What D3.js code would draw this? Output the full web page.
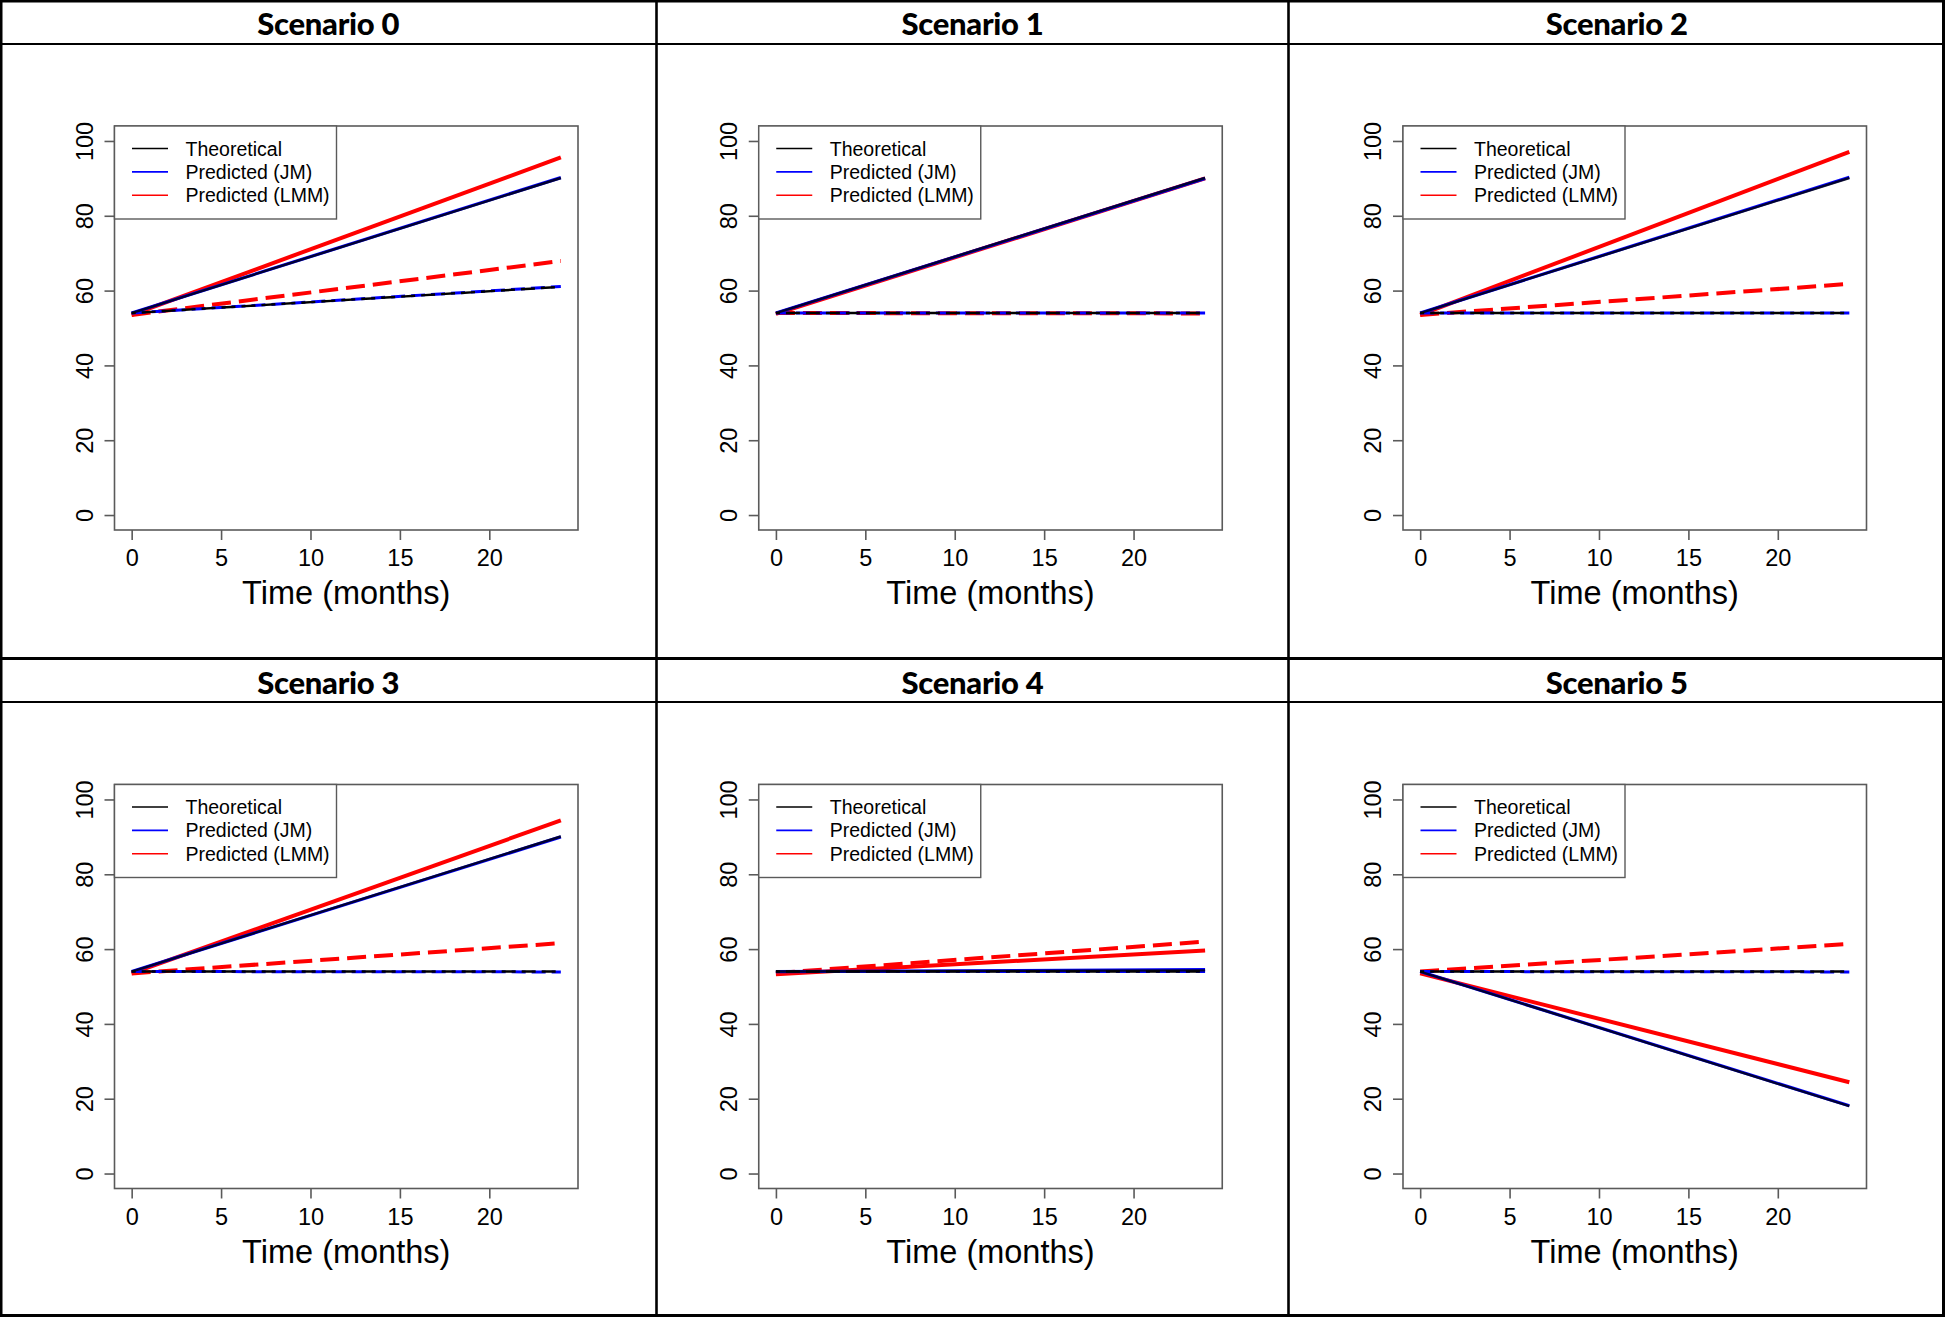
<!DOCTYPE html>
<html><head><meta charset="utf-8">
<script src="https://cdn.jsdelivr.net/npm/d3@7/dist/d3.min.js"></script>
<style>body{margin:0;background:#fff}</style></head>
<body>
<svg id="chart" width="1945" height="1317"></svg>
<script>
// ---- data ----
const scenarios = ["Scenario 0", "Scenario 1", "Scenario 2", "Scenario 3", "Scenario 4", "Scenario 5"];
const times = [0, 24];
const xTicks = [0, 5, 10, 15, 20];
const yTicks = [0, 20, 40, 60, 80, 100];
const legendLabels = ["Theoretical", "Predicted (JM)", "Predicted (LMM)"];
// solid = one group, dashed = other group; values at times [0, 24]
const theoSolid  = [[54, 90.1], [54, 90.1], [54, 90.1], [54, 90.1], [54, 54.3], [54, 18.0]];
const theoDashed = [[54, 61.0], [54, 54.0], [54, 54.0], [54, 54.0], [54, 54.0], [54, 54.0]];
const jmSolid    = [[54, 90.2], [54, 90.0], [54, 90.3], [54, 90.0], [54, 54.5], [54, 18.1]];
const jmDashed   = [[54, 61.1], [54, 54.0], [54, 54.0], [54, 53.9], [54, 54.0], [54, 53.9]];
const lmmSolid   = [[53.5, 95.6], [53.8, 90.0], [53.5, 97.1], [53.5, 94.4], [53.3, 59.6], [53.5, 24.4]];
const lmmDashed  = [[53.5, 67.9], [54, 53.9], [53.5, 61.8], [53.5, 61.6], [53.6, 62.0], [54, 61.4]];

// ---- layout ----
const svg = d3.select("#chart");
const W = 1945, H = 1317;
const colEdges = [0, 656.5, 1288.5, 1945];
const rowTops = [0, 658.5];
const titleH = 44;
const plotW = 463.5, plotH = 404, plotTopOff = 82, plotShift = 18;

const fontAx = "'Liberation Sans', Arial, sans-serif";

scenarios.forEach((name, k) => {
  const c = k % 3, r = Math.floor(k / 3);
  const cx = (colEdges[c] + colEdges[c + 1]) / 2;
  const rowTop = rowTops[r];
  const left = cx + plotShift - plotW / 2;
  const top = rowTop + titleH + plotTopOff;
  const bottom = top + plotH;

  // title
  svg.append("text").attr("x", cx).attr("y", rowTop + 35)
    .attr("text-anchor", "middle")
    .style("font-family", "Lato, 'Open Sans', sans-serif").style("font-weight", 900)
    .style("font-size", "31px").style("letter-spacing", "-0.3px").text(name);

  const x = d3.scaleLinear().domain([-0.96, 24.96]).range([left, left + plotW]);
  const y = d3.scaleLinear().domain([-4, 104]).range([bottom, top]);

  const g = svg.append("g");
  const line = d3.line().x((d, i) => x(times[i])).y(d => y(d));

  // LMM (red)
  g.append("path").datum(lmmSolid[k]).attr("d", line)
    .attr("fill", "none").attr("stroke", "#ff0000").attr("stroke-width", 4);
  g.append("path").datum(lmmDashed[k]).attr("d", line)
    .attr("fill", "none").attr("stroke", "#ff0000").attr("stroke-width", 4)
    .attr("stroke-dasharray", "19,8");
  // JM (blue)
  g.append("path").datum(jmSolid[k]).attr("d", line)
    .attr("fill", "none").attr("stroke", "#0000ff").attr("stroke-width", 3.2);
  g.append("path").datum(jmDashed[k]).attr("d", line)
    .attr("fill", "none").attr("stroke", "#0000ff").attr("stroke-width", 3.0)
    .attr("stroke-dasharray", "14,6");
  // Theoretical (black)
  g.append("path").datum(theoSolid[k]).attr("d", line)
    .attr("fill", "none").attr("stroke", "#000").attr("stroke-width", 2.4).attr("stroke-opacity", 0.8);
  g.append("path").datum(theoDashed[k]).attr("d", line)
    .attr("fill", "none").attr("stroke", "#000").attr("stroke-width", 2.4)
    .attr("stroke-dasharray", "14,6").attr("stroke-dashoffset", 10);

  // box
  svg.append("rect").attr("x", left).attr("y", top).attr("width", plotW).attr("height", plotH)
    .attr("fill", "none").attr("stroke", "#5a5a5a").attr("stroke-width", 1.6);

  // x axis
  const xa = svg.append("g").attr("transform", `translate(0,${bottom})`)
    .call(d3.axisBottom(x).tickValues(xTicks).tickSize(10).tickFormat(d3.format("d")));
  xa.select(".domain").remove();
  xa.selectAll(".tick line").attr("stroke", "#5a5a5a").attr("stroke-width", 1.6);
  xa.selectAll(".tick text").attr("y", 36).attr("dy", 0)
    .style("font-family", fontAx).style("font-size", "23.5px").attr("fill", "#000");

  // y axis
  const ya = svg.append("g").attr("transform", `translate(${left},0)`)
    .call(d3.axisLeft(y).tickValues(yTicks).tickSize(10).tickFormat(d3.format("d")));
  ya.select(".domain").remove();
  ya.selectAll(".tick line").attr("stroke", "#5a5a5a").attr("stroke-width", 1.6);
  ya.selectAll(".tick text").attr("transform", "rotate(-90)")
    .attr("x", 0).attr("y", -22).attr("dy", 0).attr("text-anchor", "middle")
    .style("font-family", fontAx).style("font-size", "23.5px").attr("fill", "#000");

  // x label
  svg.append("text").attr("x", left + plotW / 2).attr("y", bottom + 74)
    .attr("text-anchor", "middle").style("font-family", fontAx).style("font-size", "32.5px")
    .text("Time (months)");

  // legend
  const lg = svg.append("g");
  lg.append("rect").attr("x", left).attr("y", top).attr("width", 222).attr("height", 93)
    .attr("fill", "#fff").attr("stroke", "#5a5a5a").attr("stroke-width", 1.4);
  const legColors = ["#000", "#0000ff", "#ff0000"];
  legendLabels.forEach((lab, i) => {
    const ly = top + 22.5 + i * 23.4;
    lg.append("line").attr("x1", left + 17.5).attr("x2", left + 53.5)
      .attr("y1", ly).attr("y2", ly).attr("stroke", legColors[i]).attr("stroke-width", 1.6);
    lg.append("text").attr("x", left + 71).attr("y", ly + 7)
      .style("font-family", fontAx).style("font-size", "19.5px").text(lab);
  });
});

// table grid
const grid = svg.append("g");
grid.append("rect").attr("x", 1).attr("y", 1).attr("width", W - 2.5).attr("height", H - 2.5)
  .attr("fill", "none").attr("stroke", "#000").attr("stroke-width", 3);
[656.5, 1288.5].forEach(xv => grid.append("line").attr("x1", xv).attr("x2", xv)
  .attr("y1", 0).attr("y2", H).attr("stroke", "#000").attr("stroke-width", 2.6));
[[44, 2.2], [658.5, 3.2], [702, 2.2]].forEach(([yv, sw]) => grid.append("line")
  .attr("x1", 0).attr("x2", W).attr("y1", yv).attr("y2", yv)
  .attr("stroke", "#000").attr("stroke-width", sw));
</script>
</body></html>
